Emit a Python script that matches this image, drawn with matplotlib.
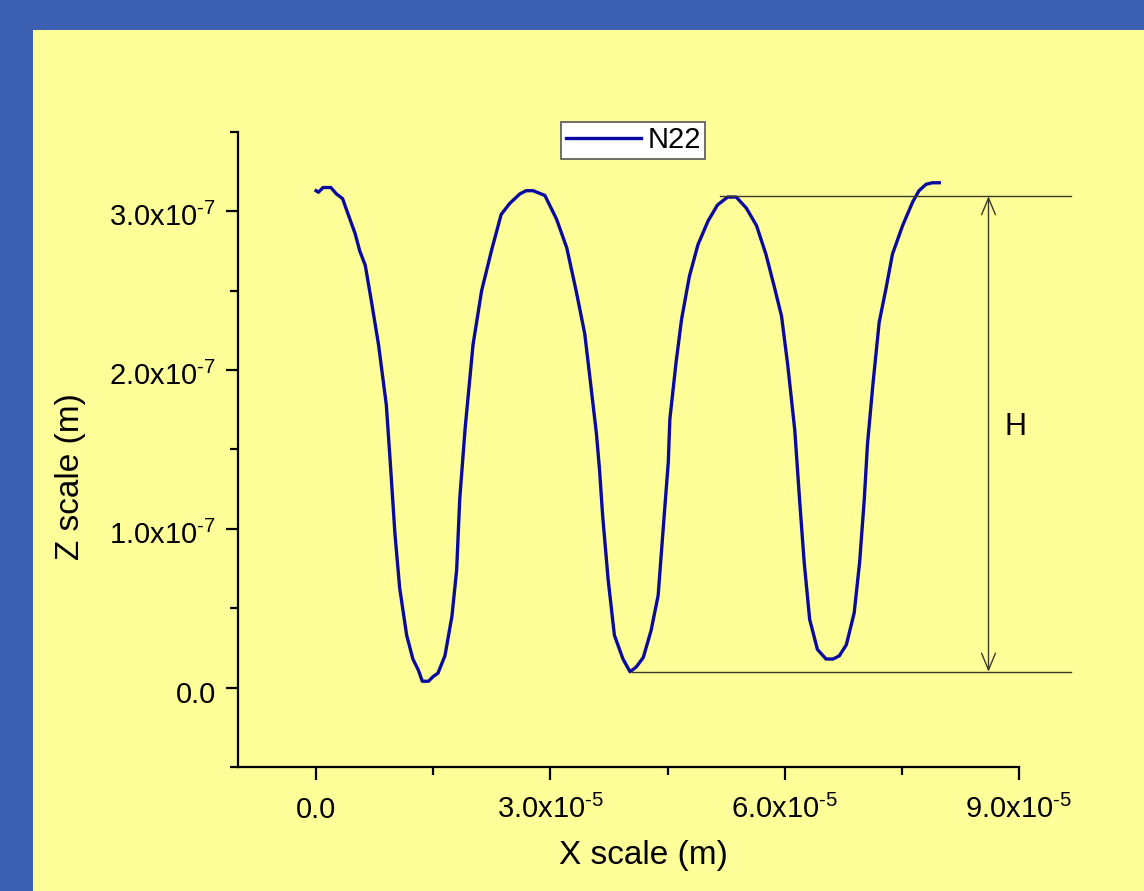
import matplotlib
matplotlib.use("Agg")
import matplotlib.pyplot as plt
from matplotlib.patches import Rectangle
from matplotlib.transforms import ScaledTranslation

# ---------------- CONFIGURATION ---------------- #

OUTPUT_FILE = "out.png"

BLUE = "#3d61b2"
YELLOW = "#ffff99"
LINE_COLOR = "#0a0aa0"
NOTE_COLOR = "#3a3a2a"

plt.rcParams["font.family"] = ["Liberation Sans", "DejaVu Sans"]
plt.rcParams["mathtext.fontset"] = "custom"
plt.rcParams["mathtext.rm"] = "Liberation Sans"
plt.rcParams["mathtext.it"] = "Liberation Sans"
plt.rcParams["mathtext.bf"] = "Liberation Sans"

# ---------------- DATA ---------------- #

# profile, x in units of 1e-5 m, z in units of 1e-7 m
X_VALUES = [
    0.00, 0.03, 0.09, 0.19, 0.26, 0.34, 0.39, 0.50, 0.56, 0.63, 0.71, 0.80,
    0.90, 0.95, 1.01, 1.07, 1.16, 1.24, 1.31, 1.36, 1.44, 1.50, 1.56, 1.65,
    1.74, 1.80, 1.84, 1.91, 2.01, 2.12, 2.25, 2.37, 2.48, 2.61, 2.69, 2.78,
    2.93, 3.08, 3.21, 3.33, 3.44, 3.50, 3.59, 3.63, 3.67, 3.74, 3.82, 3.93,
    4.02, 4.10, 4.19, 4.29, 4.38, 4.44, 4.51, 4.53, 4.61, 4.68, 4.78, 4.89,
    5.02, 5.14, 5.27, 5.38, 5.51, 5.64, 5.76, 5.87, 5.96, 6.04, 6.13, 6.19,
    6.25, 6.32, 6.42, 6.53, 6.62, 6.70, 6.79, 6.89, 6.96, 7.02, 7.06, 7.13,
    7.21, 7.30, 7.38, 7.51, 7.64, 7.72, 7.81, 7.89, 7.98,
]
Z_VALUES = [
    3.13, 3.12, 3.15, 3.15, 3.11, 3.08, 3.01, 2.86, 2.75, 2.66, 2.43, 2.16,
    1.78, 1.42, 0.97, 0.63, 0.33, 0.18, 0.11, 0.04, 0.04, 0.07, 0.09, 0.20,
    0.45, 0.74, 1.19, 1.64, 2.16, 2.50, 2.76, 2.98, 3.05, 3.11, 3.13, 3.13,
    3.10, 2.95, 2.77, 2.50, 2.23, 1.98, 1.60, 1.37, 1.08, 0.68, 0.33, 0.18,
    0.10, 0.13, 0.19, 0.36, 0.58, 0.97, 1.42, 1.69, 2.05, 2.32, 2.59, 2.79,
    2.94, 3.04, 3.09, 3.09, 3.02, 2.91, 2.73, 2.52, 2.34, 2.03, 1.62, 1.19,
    0.79, 0.43, 0.24, 0.18, 0.18, 0.20, 0.27, 0.47, 0.79, 1.19, 1.53, 1.91,
    2.30, 2.52, 2.73, 2.91, 3.06, 3.13, 3.17, 3.18, 3.18,
]
X_UNIT = 1e-5
Z_UNIT = 1e-7

SERIES_NAME = "N22"

X_TICKS = [0.0, 3e-5, 6e-5, 9e-5]
X_TICK_LABELS = ["0.0", r"3.0x10$^{\text{-5}}$", r"6.0x10$^{\text{-5}}$",
                 r"9.0x10$^{\text{-5}}$"]
X_MINOR = [1.5e-5, 4.5e-5, 7.5e-5]
Z_TICKS = [0.0, 1e-7, 2e-7, 3e-7]
Z_TICK_LABELS = ["0.0", r"1.0x10$^{\text{-7}}$", r"2.0x10$^{\text{-7}}$",
                 r"3.0x10$^{\text{-7}}$"]
Z_MINOR = [-0.5e-7, 0.5e-7, 1.5e-7, 2.5e-7, 3.5e-7]

# height marker H
TOP_LEVEL = 3.095e-7
BOTTOM_LEVEL = 0.10e-7
TOP_START = 5.17e-5
BOTTOM_START = 4.04e-5
LINE_END = 9.67e-5
ARROW_X = 8.61e-5
H_LABEL_X = 8.95e-5
H_LABEL_Z = 1.64e-7


# ---------------- VISUALIZATION ---------------- #

def create_chart():
    fig = plt.figure(figsize=(11.44, 8.91), dpi=100, facecolor=BLUE)
    fig.add_artist(Rectangle((33 / 1144, 0), 1, 1 - 30 / 891,
                             transform=fig.transFigure, facecolor=YELLOW,
                             edgecolor="none", zorder=0))

    ax = fig.add_axes([0.208, 0.1392, 0.6827, 0.7127])
    ax.set_facecolor("none")

    xs = [v * X_UNIT for v in X_VALUES]
    zs = [v * Z_UNIT for v in Z_VALUES]
    ax.plot(xs, zs, color=LINE_COLOR, lw=2.4, label=SERIES_NAME,
            solid_joinstyle="round")

    ax.set_xlim(-1e-5, 9e-5)
    ax.set_ylim(-0.5e-7, 3.5e-7)

    # H marker
    ax.plot([TOP_START, LINE_END], [TOP_LEVEL, TOP_LEVEL], color=NOTE_COLOR,
            lw=1, clip_on=False)
    ax.plot([BOTTOM_START, LINE_END], [BOTTOM_LEVEL, BOTTOM_LEVEL],
            color=NOTE_COLOR, lw=1, clip_on=False)
    ax.annotate("", xy=(ARROW_X, TOP_LEVEL), xytext=(ARROW_X, BOTTOM_LEVEL),
                arrowprops=dict(arrowstyle="<->,head_length=0.6,head_width=0.25",
                                color=NOTE_COLOR, lw=1, mutation_scale=20,
                                shrinkA=0, shrinkB=0),
                annotation_clip=False)
    ax.text(H_LABEL_X, H_LABEL_Z, "H", fontsize=22, ha="center", va="center",
            clip_on=False)

    for side in ["top", "right"]:
        ax.spines[side].set_visible(False)
    for side in ["left", "bottom"]:
        ax.spines[side].set_linewidth(1.6)

    ax.set_xticks(X_TICKS)
    ax.set_xticklabels(X_TICK_LABELS)
    ax.set_xticks(X_MINOR, minor=True)
    ax.set_yticks(Z_TICKS)
    ax.set_yticklabels(Z_TICK_LABELS)
    ax.set_yticks(Z_MINOR, minor=True)

    ax.tick_params(which="major", direction="out", length=9, width=1.6,
                   labelsize=21)
    ax.tick_params(which="minor", direction="out", length=5.5, width=1.6)
    ax.tick_params(axis="x", which="major", pad=27.5)
    ax.tick_params(axis="y", which="major", pad=7)

    for lab in ax.get_xticklabels():
        lab.set_va("baseline")
    for lab in ax.get_yticklabels():
        lab.set_va("baseline")
        lab.set_transform(lab.get_transform()
                          + ScaledTranslation(0, -0.15, fig.dpi_scale_trans))

    ax.set_xlabel("X scale (m)", fontsize=24)
    ax.xaxis.set_label_coords(0.519, -0.115)
    ax.set_ylabel("Z scale (m)", fontsize=24, va="center")
    ax.yaxis.set_label_coords(-0.215, 0.457)

    leg = ax.legend(loc="upper center", bbox_to_anchor=(0.506, 1.016),
                    fontsize=21, frameon=True, fancybox=False, framealpha=1,
                    edgecolor="#555555", borderpad=0.15, handlelength=2.6,
                    handletextpad=0.2, borderaxespad=0)
    leg.get_frame().set_linewidth(1.2)

    fig.savefig(OUTPUT_FILE, dpi=100, facecolor=BLUE)


# ---------------- MAIN ---------------- #

def main():
    create_chart()


if __name__ == "__main__":
    main()
